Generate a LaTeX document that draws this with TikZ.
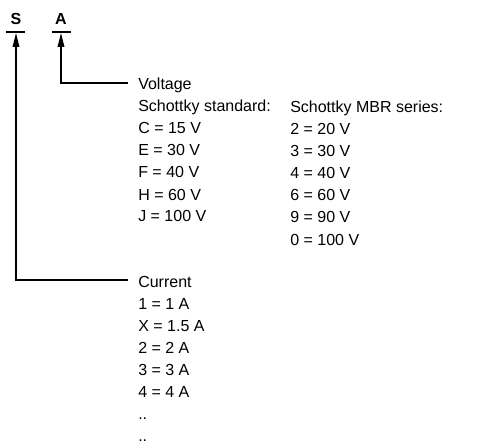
\documentclass[tikz,border=0pt]{standalone}
\usepackage{fontspec}
\setmainfont{Liberation Sans}
\usetikzlibrary{arrows.meta,positioning,calc}
\newcommand{\codesize}{\fontsize{12pt}{14pt}\selectfont}

\begin{document}
\begin{tikzpicture}[x=0.75pt,y=-0.75pt,
    every node/.style={font=\codesize},
    letter/.style={font=\codesize\bfseries,anchor=base,inner sep=0pt},
    head/.style={anchor=base west,inner xsep=7.5pt,inner ysep=0pt,text height=10.5pt,text depth=0pt},
    entry/.style={anchor=base west,inner sep=0pt},
    bar/.style={line width=1.1pt},
    lead/.style={line width=0.9pt,-{Triangle[length=10.5pt,width=5pt]}}]
    \useasboundingbox (0,0) rectangle (499,445);

    % Code letters
    \node[letter] (s) at (16,25) {S};
    \node[letter] (a) at (61,25) {A};
    \draw[bar] (6,32) -- (25,32);
    \draw[bar] (52,32) -- (71,32);
    \coordinate (s_tip) at (16,33);
    \coordinate (a_tip) at (61,33);

    % Voltage
    \node[head] (volt) at (128,90) {Voltage};
    \node[entry] (std) at (138,112) {Schottky standard:};
    \node[entry] (std_c) at (138,134) {C = 15 V};
    \node[entry] (std_e) at (138,156) {E = 30 V};
    \node[entry] (std_f) at (138,178) {F = 40 V};
    \node[entry] (std_h) at (138,200) {H = 60 V};
    \node[entry] (std_j) at (138,222) {J = 100 V};

    \node[entry] (mbr) at (290,113) {Schottky MBR series:};
    \node[entry] (mbr_2) at (290,135) {2 = 20 V};
    \node[entry] (mbr_3) at (290,157) {3 = 30 V};
    \node[entry] (mbr_4) at (290,179) {4 = 40 V};
    \node[entry] (mbr_6) at (290,201) {6 = 60 V};
    \node[entry] (mbr_9) at (290,223) {9 = 90 V};
    \node[entry] (mbr_0) at (290,245) {0 = 100 V};

    % Current
    \node[head] (cur) at (128,287) {Current};
    \node[entry] (cur_1) at (138,309) {1 = 1 A};
    \node[entry] (cur_x) at (138,331) {X = 1.5 A};
    \node[entry] (cur_2) at (138,353) {2 = 2 A};
    \node[entry] (cur_3) at (138,375) {3 = 3 A};
    \node[entry] (cur_4) at (138,397) {4 = 4 A};
    \node[entry] (cur_d1) at (138,419) {..};
    \node[entry] (cur_d2) at (138,441) {..};

    % Leaders
    \draw[lead] (volt.west) -| (a_tip);
    \draw[lead] (cur.west) -| (s_tip);
\end{tikzpicture}
\end{document}
